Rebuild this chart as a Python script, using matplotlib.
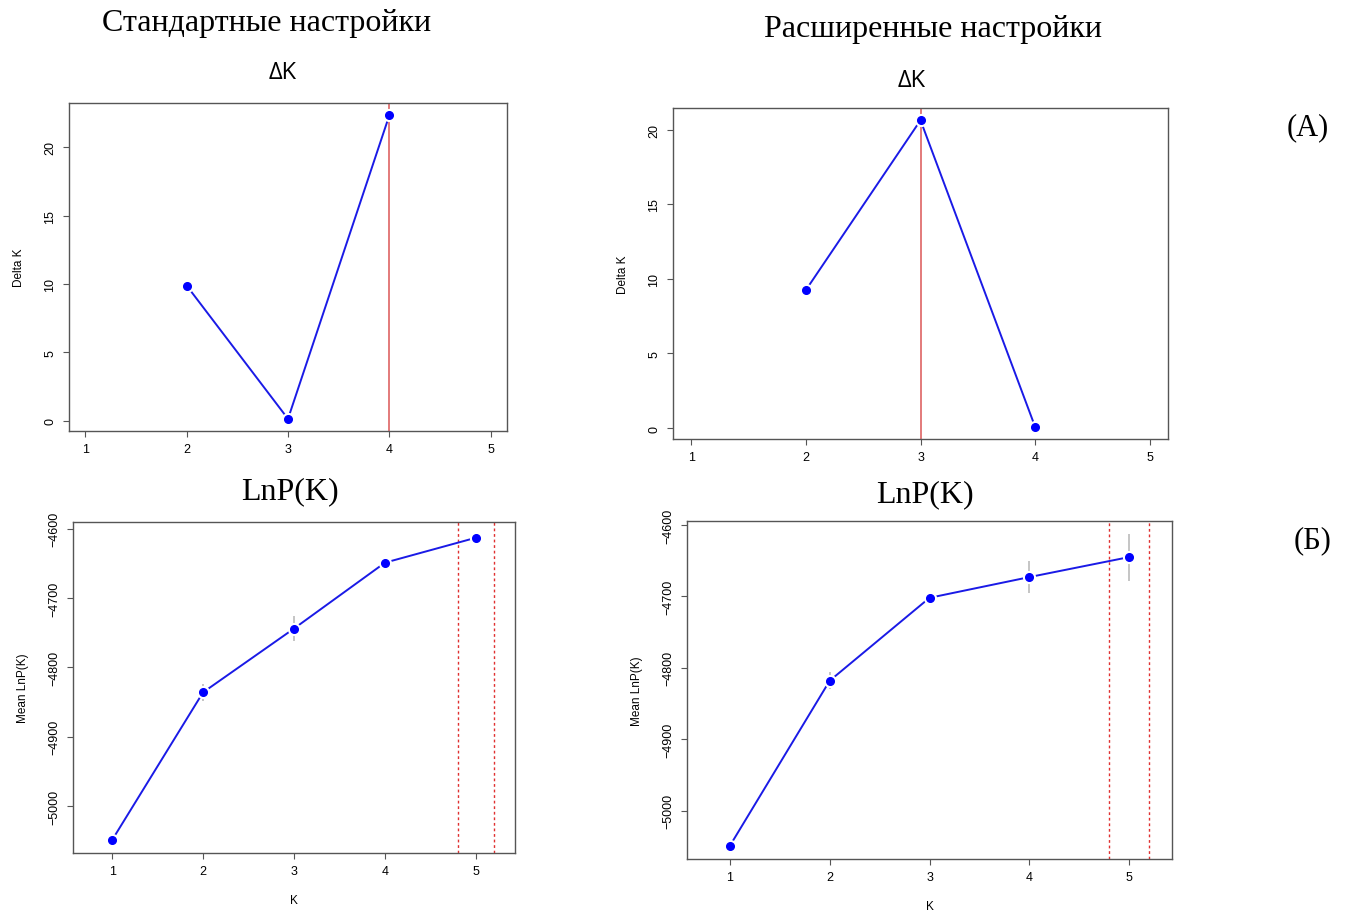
import numpy as np
import matplotlib
matplotlib.use('Agg')
import matplotlib.pyplot as plt

# данные
k_values = [1, 2, 3, 4, 5]
delta_k_std = [np.nan, 9.89, 0.15, 22.34, np.nan]
delta_k_ext = [np.nan, 9.25, 20.62, 0.09, np.nan]
lnp_std_mean = [-5049, -4836, -4744, -4649, -4613]
lnp_std_sd = [1, 12, 18, 3, 5]
lnp_ext_mean = [-5049, -4818, -4702, -4673, -4645]
lnp_ext_sd = [1, 12, 3, 22, 33]
delta_ticks = [0, 5, 10, 15, 20]
lnp_ticks = [-5000, -4900, -4800, -4700, -4600]

W, H = 1347, 912
tick_font = 'Liberation Sans'
serif_font = 'Liberation Serif'


def ax_at(fig, left, top, right, bottom):
    return fig.add_axes([left / W, 1 - bottom / H, (right - left) / W, (bottom - top) / H])


def r_lim(lo, hi):
    pad = (hi - lo) * 0.04
    return lo - pad, hi + pad


def r_style(ax):
    for s in ax.spines.values():
        s.set_color('#555555')
        s.set_linewidth(1.0)
    ax.tick_params(direction='out', length=4, width=0.8, color='#555555',
                   labelsize=9, pad=5)
    for lab in ax.get_xticklabels() + ax.get_yticklabels():
        lab.set_fontfamily(tick_font)
    for lab in ax.get_yticklabels():
        lab.set_rotation(90)
        lab.set_va('center')


def plot_delta(ax, values):
    x = np.array(k_values, dtype=float)
    y = np.array(values)
    ok = ~np.isnan(y)
    ax.plot(x[ok], y[ok], color='#1a1ae6', lw=1.4, zorder=2)
    ax.plot(x[ok], y[ok], 'o', ms=7, mfc='#0000ff', mec='white', mew=2.5, zorder=3)
    ax.plot(x[ok], y[ok], 'o', ms=5.5, color='#0000ff', mec='#0000ff', zorder=4)
    best = x[ok][np.argmax(y[ok])]
    ax.axvline(best, color='#e07070', lw=1.3, zorder=1)
    ax.set_xlim(*r_lim(1, 5))
    ax.set_ylim(*r_lim(np.nanmin(y), np.nanmax(y)))
    ax.set_xticks(k_values)
    ax.set_yticks(delta_ticks)
    ax.set_ylabel('Delta K', fontsize=8.5, fontfamily=tick_font, labelpad=14)
    r_style(ax)


def plot_lnp(ax, means, sds):
    x = np.array(k_values, dtype=float)
    m = np.array(means, dtype=float)
    s = np.array(sds, dtype=float)
    ax.vlines(x, m - s, m + s, color='#bbbbbb', lw=1.2, zorder=1)
    ax.plot(x, m, color='#1a1ae6', lw=1.4, zorder=2)
    ax.plot(x, m, 'o', ms=7, mfc='#0000ff', mec='white', mew=2.5, zorder=3)
    ax.plot(x, m, 'o', ms=5.5, color='#0000ff', mec='#0000ff', zorder=4)
    for xv in (4.8, 5.2):
        ax.axvline(xv, color='#e03030', lw=1.0, ls=(0, (2, 2)), zorder=1)
    ax.set_xlim(*r_lim(0.75, 5.25))
    ax.set_ylim(*r_lim((m - s).min(), (m + s).max()))
    ax.set_xticks(k_values)
    ax.set_yticks(lnp_ticks)
    ax.set_xlabel('K', fontsize=8.5, fontfamily=tick_font, labelpad=12)
    ax.set_ylabel('Mean LnP(K)', fontsize=8.5, fontfamily=tick_font, labelpad=14)
    r_style(ax)


fig = plt.figure(figsize=(W / 100, H / 100), dpi=100)

ax1 = ax_at(fig, 69, 104, 507, 432)
plot_delta(ax1, delta_k_std)
ax2 = ax_at(fig, 673, 109, 1168, 440)
plot_delta(ax2, delta_k_ext)
ax3 = ax_at(fig, 73, 523, 515, 854)
plot_lnp(ax3, lnp_std_mean, lnp_std_sd)
ax4 = ax_at(fig, 687, 522, 1172, 860)
plot_lnp(ax4, lnp_ext_mean, lnp_ext_sd)


def ftext(x, y, s, **kw):
    fig.text(x / W, 1 - y / H, s, ha='center', va='center', **kw)


ftext(267, 23, 'Стандартные настройки', fontsize=23, fontfamily=serif_font)
ftext(933, 29, 'Расширенные настройки', fontsize=23, fontfamily=serif_font)
ftext(283, 73, 'ΔK', fontsize=17, fontfamily='Open Sans')
ftext(912, 81, 'ΔK', fontsize=17, fontfamily='Open Sans')
ftext(290, 492, 'LnP(K)', fontsize=23, fontfamily=serif_font)
ftext(925, 495, 'LnP(K)', fontsize=23, fontfamily=serif_font)
ftext(1308, 128, '(A)', fontsize=22, fontfamily=serif_font)
ftext(1313, 541, '(Б)', fontsize=22, fontfamily=serif_font)

fig.savefig('out.png', dpi=100)
